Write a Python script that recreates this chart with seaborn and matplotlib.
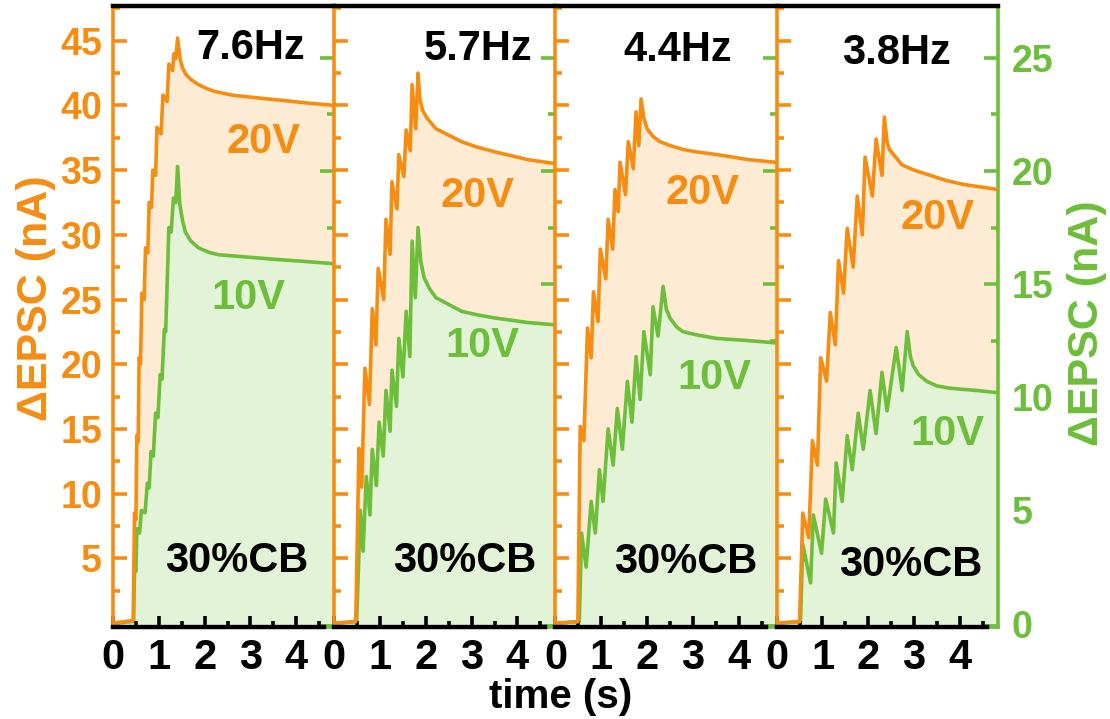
import numpy as np
import pandas as pd
import seaborn as sns
import matplotlib.pyplot as plt
from matplotlib.ticker import MultipleLocator

sns.set_style("ticks")
plt.rcParams['font.family'] = ['Liberation Sans', 'DejaVu Sans']
plt.rcParams['font.weight'] = 'bold'

ORANGE = "#F48D12"
GREEN = "#6DBE3A"
ORANGE_FILL = "#FDEBD3"
GREEN_FILL = "#E3F3D8"

freq_labels = ["7.6Hz", "5.7Hz", "4.4Hz", "3.8Hz"]
high_label = "20V"
low_label = "10V"
cb_label = "30%CB"

# ---- 20 V traces (left axis, nA) ----
t_20_p1 = [0, 0.44, 0.47, 0.50, 0.52, 0.55, 0.57, 0.60, 0.63, 0.68, 0.71, 0.76, 0.79, 0.84, 0.87, 0.93,
           0.96, 1.05, 1.09, 1.18, 1.22, 1.30, 1.33, 1.37, 1.41, 1.47, 1.52, 1.59, 1.70, 1.87, 2.05, 2.20,
           2.59, 3.10, 3.67, 4.20, 4.83]
v_20_p1 = [0, 0.2, 8.5, 8.0, 14.5, 14.0, 20.5, 20.0, 25.5, 25.0, 29.0, 28.6, 32.5, 32.1, 35.0, 34.6,
           38.3, 37.8, 40.8, 40.3, 43.2, 42.7, 44.0, 43.6, 45.2, 43.5, 42.9, 42.4, 42.0, 41.6, 41.3, 41.1,
           40.8, 40.6, 40.4, 40.2, 40.0]

t_20_p2 = [0, 0.47, 0.54, 0.60, 0.67, 0.77, 0.83, 0.91, 0.96, 1.08, 1.13, 1.22, 1.26, 1.37, 1.41, 1.52,
           1.57, 1.66, 1.70, 1.78, 1.83, 1.87, 1.93, 2.03, 2.22, 2.50, 2.78, 3.10, 3.52, 4.24, 4.83]
v_20_p2 = [0, 0.1, 13.5, 10.5, 19.7, 16.9, 24.3, 21.5, 27.4, 25.0, 31.2, 28.5, 34.1, 32.0, 36.2, 34.5,
           38.1, 36.5, 41.6, 38.2, 42.5, 40.5, 39.6, 39.0, 38.2, 37.7, 37.2, 36.8, 36.4, 35.8, 35.5]

t_20_p3 = [0, 0.49, 0.54, 0.62, 0.70, 0.78, 0.83, 0.93, 0.98, 1.10, 1.15, 1.25, 1.30, 1.37, 1.41, 1.53,
           1.59, 1.70, 1.76, 1.82, 1.87, 1.93, 2.00, 2.13, 2.28, 2.50, 2.78, 3.10, 3.52, 4.24, 4.83]
v_20_p3 = [0, 0.1, 15.2, 14.1, 22.8, 20.5, 25.6, 23.3, 28.9, 26.6, 31.2, 28.9, 33.5, 31.8, 35.6, 33.1,
           37.2, 35.1, 39.5, 36.9, 40.5, 39.0, 38.2, 37.6, 37.2, 36.9, 36.6, 36.4, 36.2, 35.8, 35.6]

t_20_p4 = [0, 0.50, 0.57, 0.70, 0.78, 0.89, 0.96, 1.09, 1.17, 1.28, 1.35, 1.46, 1.54, 1.67, 1.76, 1.87,
           1.93, 2.09, 2.17, 2.30, 2.35, 2.41, 2.46, 2.60, 2.74, 3.00, 3.35, 3.70, 4.07, 4.83]
v_20_p4 = [0, 0.1, 8.5, 6.6, 14.1, 12.2, 20.5, 18.7, 24.0, 21.5, 28.0, 25.5, 30.5, 27.5, 33.0, 30.0,
           36.0, 33.0, 37.4, 34.6, 39.1, 37.2, 36.6, 36.0, 35.4, 35.0, 34.6, 34.2, 33.9, 33.5]

# ---- 10 V traces (right axis, nA) ----
t_10_p1 = [0, 0.45, 0.47, 0.50, 0.52, 0.58, 0.62, 0.70, 0.75, 0.79, 0.83, 0.88, 0.93, 0.98, 1.03, 1.07,
           1.12, 1.15, 1.22, 1.27, 1.32, 1.37, 1.41, 1.46, 1.52, 1.58, 1.70, 1.87, 2.10, 2.30, 2.90, 3.50,
           4.20, 4.83]
v_10_p1 = [0, 0.1, 2.5, 2.3, 4.2, 4.0, 5.0, 4.9, 6.2, 6.0, 7.6, 7.4, 9.3, 9.1, 11.0, 10.8,
           13.0, 12.9, 17.5, 17.3, 18.8, 18.6, 20.2, 18.5, 17.8, 17.3, 16.9, 16.6, 16.4, 16.3, 16.2, 16.1,
           16.0, 15.9]

t_10_p2 = [0, 0.49, 0.57, 0.63, 0.70, 0.78, 0.83, 0.92, 0.98, 1.07, 1.13, 1.22, 1.26, 1.36, 1.41, 1.50,
           1.57, 1.65, 1.70, 1.77, 1.83, 1.89, 1.96, 2.08, 2.22, 2.50, 2.78, 3.10, 3.52, 4.24, 4.83]
v_10_p2 = [0, 0.1, 5.0, 3.2, 6.5, 4.8, 7.7, 6.1, 8.9, 7.4, 10.3, 8.5, 11.2, 9.6, 12.6, 10.9,
           13.8, 11.8, 16.9, 14.4, 17.5, 16.0, 15.3, 14.8, 14.4, 14.1, 13.8, 13.65, 13.5, 13.3, 13.2]

t_10_p3 = [0, 0.52, 0.57, 0.67, 0.78, 0.87, 0.96, 1.04, 1.15, 1.26, 1.35, 1.46, 1.57, 1.67, 1.76, 1.85,
           1.93, 2.07, 2.13, 2.24, 2.35, 2.42, 2.50, 2.65, 2.78, 3.10, 3.52, 4.24, 4.83]
v_10_p3 = [0, 0.1, 4.0, 2.5, 5.4, 4.0, 6.8, 5.4, 8.6, 7.0, 9.5, 7.7, 10.7, 8.9, 11.8, 9.9,
           12.9, 11.0, 14.0, 12.7, 14.9, 13.9, 13.5, 13.1, 12.9, 12.75, 12.6, 12.5, 12.4]

t_10_p4 = [0, 0.52, 0.57, 0.74, 0.80, 0.98, 1.07, 1.24, 1.30, 1.43, 1.54, 1.65, 1.78, 1.89, 2.04, 2.17,
           2.30, 2.41, 2.61, 2.74, 2.85, 2.92, 2.98, 3.10, 3.28, 3.50, 3.78, 4.37, 4.83]
v_10_p4 = [0, 0.1, 3.5, 1.8, 4.8, 3.1, 5.5, 4.0, 7.1, 5.4, 8.3, 6.8, 9.3, 7.7, 10.3, 8.4,
           11.1, 9.4, 12.2, 10.3, 12.9, 11.8, 11.4, 11.0, 10.7, 10.5, 10.4, 10.3, 10.2]

x_ticks = [0, 1, 2, 3, 4]
y_left_ticks = [5, 10, 15, 20, 25, 30, 35, 40, 45]
y_right_ticks = [0, 5, 10, 15, 20, 25]

traces_20 = [(t_20_p1, v_20_p1), (t_20_p2, v_20_p2), (t_20_p3, v_20_p3), (t_20_p4, v_20_p4)]
traces_10 = [(t_10_p1, v_10_p1), (t_10_p2, v_10_p2), (t_10_p3, v_10_p3), (t_10_p4, v_10_p4)]

# text positions (axes fraction)
pos_freq = [(0.62, 0.932), (0.652, 0.931), (0.552, 0.928), (0.543, 0.924)]
pos_20 = [(0.679, 0.780), (0.647, 0.694), (0.665, 0.698), (0.729, 0.658)]
pos_10 = [(0.61, 0.529), (0.67, 0.453), (0.72, 0.40), (0.77, 0.31)]
pos_cb = [(0.56, 0.106), (0.588, 0.106), (0.59, 0.104), (0.606, 0.10)]

XLIM = (0, 4.83)
YL = (-0.3, 47.7)
YR = (-0.15, 27.3)

fig, axes = plt.subplots(1, 4, figsize=(11.1, 7.19), dpi=100)
fig.subplots_adjust(left=0.1018, right=0.899, bottom=0.128, top=0.992, wspace=0)

LW = 2.6
SPW = 2.6
TICK_FS = 27
XT_FS = 30
TXT_FS = 30

green_axes = []
top_axes = []
for i, ax in enumerate(axes):
    axg = ax.twinx()
    axo = ax.twinx()
    ax.set_zorder(0)
    axg.set_zorder(1)
    axo.set_zorder(2)
    green_axes.append(axg)
    top_axes.append(axo)

for i, ax in enumerate(axes):
    axg = green_axes[i]
    axo = top_axes[i]
    t20, v20 = traces_20[i]
    t10, v10 = traces_10[i]
    df20 = pd.DataFrame({"t": t20, "v": v20})
    df10 = pd.DataFrame({"t": t10, "v": v10})

    # base: orange fill
    ax.fill_between(df20["t"], 0, df20["v"], color=ORANGE_FILL, lw=0)
    # green layer
    axg.fill_between(df10["t"], 0, df10["v"], color=GREEN_FILL, lw=0)
    sns.lineplot(data=df10, x="t", y="v", ax=axg, color=GREEN, lw=LW, estimator=None)
    # top layer: orange line
    sns.lineplot(data=df20, x="t", y="v", ax=axo, color=ORANGE, lw=LW, estimator=None)

    for a in (ax, axg, axo):
        a.set_xlim(*XLIM)
        a.set_xlabel("")
        a.set_ylabel("")
    ax.set_ylim(*YL)
    axo.set_ylim(*YL)
    axg.set_ylim(*YR)

    # base axis: hide all decoration
    for s in ax.spines.values():
        s.set_visible(False)
    ax.tick_params(which="both", left=False, bottom=False, labelleft=False, labelbottom=False)

    # green axis: ticks on right, inward
    for s in ["left", "top"]:
        axg.spines[s].set_visible(False)
    axg.spines["bottom"].set_color(GREEN)
    axg.spines["bottom"].set_linewidth(SPW)
    axg.spines["right"].set_color(GREEN)
    axg.spines["right"].set_linewidth(SPW)
    axg.spines["right"].set_visible(i == 3)
    axg.yaxis.set_ticks_position("right")
    axg.set_yticks(y_right_ticks)
    axg.yaxis.set_minor_locator(MultipleLocator(2.5))
    axg.tick_params(axis="y", which="major", direction="in", length=10, width=SPW, color=GREEN,
                    labelcolor=GREEN, labelsize=TICK_FS, pad=10, labelright=(i == 3))
    axg.tick_params(axis="y", which="minor", direction="in", length=5, width=SPW, color=GREEN)
    axg.tick_params(axis="x", which="both", bottom=False, labelbottom=False)

    # top axis: left orange spine, black top/bottom, x ticks
    axo.xaxis.set_visible(True)
    axo.yaxis.set_ticks_position("left")
    axo.yaxis.set_label_position("left")
    axo.spines["right"].set_visible(False)
    axo.spines["left"].set_color(ORANGE)
    axo.spines["left"].set_linewidth(SPW)
    axo.spines["top"].set_color("black")
    axo.spines["top"].set_linewidth(SPW + 0.6)
    axo.spines["bottom"].set_color("black")
    axo.spines["bottom"].set_linewidth(SPW + 0.6)
    axo.spines["bottom"].set_bounds(0, 4.6)
    axo.set_yticks(y_left_ticks)
    axo.yaxis.set_minor_locator(MultipleLocator(2.5))
    axo.tick_params(axis="y", which="major", direction="in", length=10, width=SPW, color=ORANGE,
                    labelcolor=ORANGE, labelsize=TICK_FS, pad=8, labelleft=(i == 0), labelright=False,
                    right=False)
    axo.tick_params(axis="y", which="minor", direction="in", length=5, width=SPW, color=ORANGE, right=False)
    axo.set_xticks(x_ticks)
    axo.set_xticklabels([str(v) for v in x_ticks])
    axo.xaxis.set_minor_locator(MultipleLocator(0.5))
    axo.tick_params(axis="x", which="major", direction="in", length=8, width=SPW, color="black",
                    labelcolor="black", labelsize=XT_FS, pad=8, bottom=True, labelbottom=True,
                    top=False, labeltop=False)
    axo.tick_params(axis="x", which="minor", direction="in", length=4, width=SPW, color="black",
                    bottom=True, top=False)
    for lab in axo.get_xticklabels() + axo.get_yticklabels() + axg.get_yticklabels():
        lab.set_fontweight("bold")

    axo.text(*pos_freq[i], freq_labels[i], transform=axo.transAxes, ha="center", va="center",
             fontsize=TXT_FS, fontweight="bold", color="black")
    axo.text(*pos_20[i], high_label, transform=axo.transAxes, ha="center", va="center",
             fontsize=TXT_FS, fontweight="bold", color=ORANGE)
    axo.text(*pos_10[i], low_label, transform=axo.transAxes, ha="center", va="center",
             fontsize=TXT_FS, fontweight="bold", color=GREEN)
    axo.text(*pos_cb[i], cb_label, transform=axo.transAxes, ha="center", va="center",
             fontsize=TXT_FS, fontweight="bold", color="black")

fig.text(0.032, 0.585, "ΔEPSC (nA)", rotation=90, ha="center", va="center", color=ORANGE,
         fontsize=31, fontweight="bold")
fig.text(0.979, 0.55, "ΔEPSC (nA)", rotation=90, ha="center", va="center", color=GREEN,
         fontsize=31, fontweight="bold")
fig.text(0.505, 0.004, "time (s)", ha="center", va="bottom", color="black",
         fontsize=29, fontweight="bold")

fig.savefig("out.png", dpi=100)
